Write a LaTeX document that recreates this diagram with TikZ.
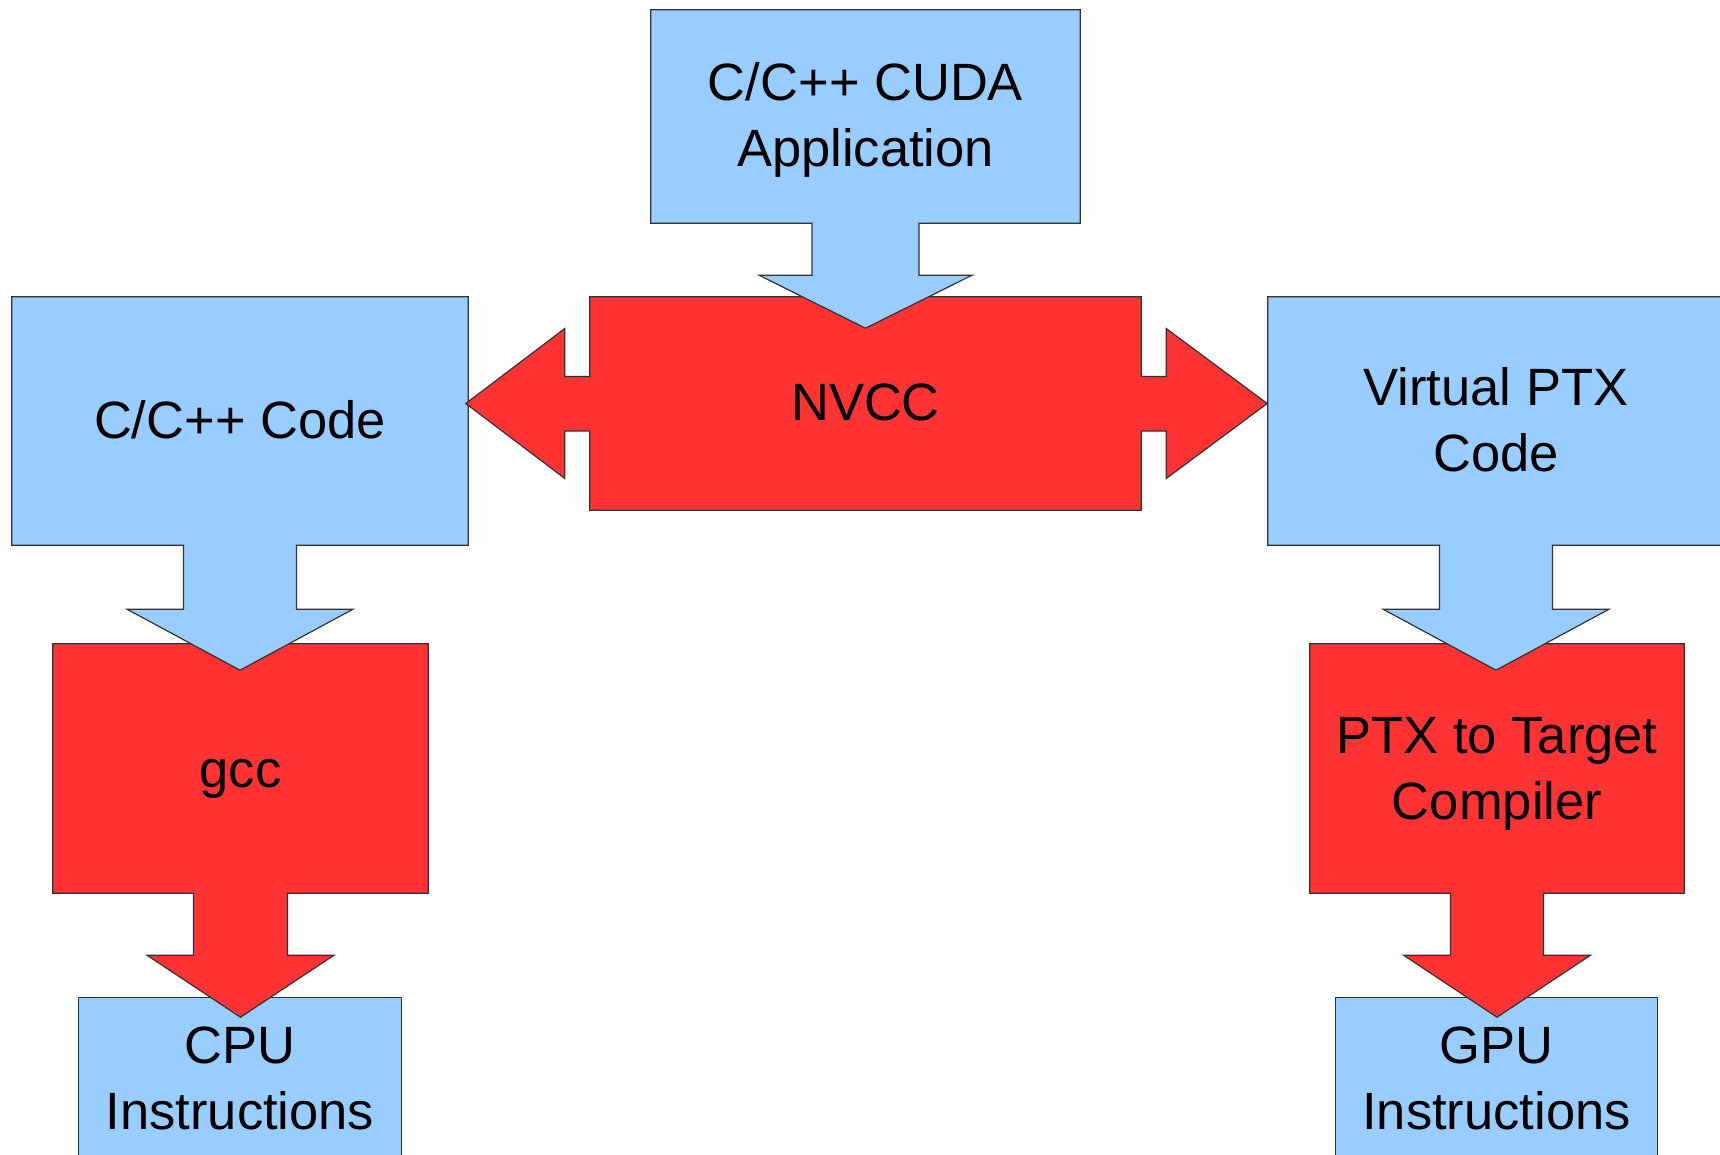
\documentclass[tikz,border=0pt]{standalone}
\usepackage{fontspec}
\setmainfont{Liberation Sans}
\usetikzlibrary{calc}
\pgfdeclarelayer{bg}
\pgfsetlayers{bg,main}
\definecolor{cblue}{RGB}{153,204,255}
\definecolor{cred}{RGB}{255,51,51}
\definecolor{cborder}{RGB}{50,50,50}
\tikzset{
  txtbox/.style={draw=none, fill=none, inner sep=0pt, align=center, text=black,
    font=\fontsize{52.5}{66}\selectfont},
  blueshape/.style={fill=cblue, draw=cborder, line width=1.2pt, line join=miter},
  redshape/.style={fill=cred, draw=cborder, line width=1.2pt, line join=miter}
}
\begin{document}
\begin{tikzpicture}[x=1pt,y=-1pt]
\useasboundingbox (0,0) rectangle (1720,1155);
\clip (0,0) rectangle (1720,1155);

% boxes (geometry + text)
\node[txtbox, minimum width=429pt, minimum height=213pt] (cuda) at (865.5,116.5) {};
\node[txtbox, minimum width=551pt, minimum height=213pt] (nvcc) at (865.5,403.5) {};
\node[txtbox, minimum width=456pt, minimum height=248pt] (code) at (240,421) {};
\node[txtbox, minimum width=456pt, minimum height=248pt] (virt) at (1496,421) {};
\node[txtbox, minimum width=375pt, minimum height=249pt] (gcc) at (240.5,768.5) {};
\node[txtbox, minimum width=374pt, minimum height=249pt] (tgt) at (1497,768.5) {};
\node[txtbox, minimum width=322pt, minimum height=160pt] (cpu) at (240,1078) {};
\node[txtbox, minimum width=322pt, minimum height=160pt] (gpu) at (1496.5,1078) {};

% texts
\node[txtbox, yshift=-3.5pt] (tcuda) at (cuda) {C/C++ CUDA\\Application};
\node[txtbox, yshift=1.5pt] (tnvcc) at (nvcc) {NVCC};
\node[txtbox, yshift=1.5pt] (tcode) at (code) {C/C++ Code};
\node[txtbox, yshift=1.5pt] (tvirt) at (virt) {Virtual PTX\\Code};
\node[txtbox, yshift=-10pt] (tgcc) at (gcc) {gcc};
\node[txtbox, yshift=-5pt] (ttgt) at (tgt) {PTX to Target\\Compiler};
\node[txtbox] (tcpu) at (cpu) {CPU\\Instructions};
\node[txtbox] (tgpu) at (gpu) {GPU\\Instructions};

\begin{pgfonlayer}{bg}
% bottom boxes
\draw[blueshape] (cpu.north west) rectangle (cpu.south east);
\draw[blueshape] (gpu.north west) rectangle (gpu.south east);
% gcc with down arrow
\draw[redshape] (gcc.north west) -- (gcc.north east) -- (gcc.south east)
  -- ($(gcc.south)+(47,0)$) -- ++(0,62) -- ++(46.5,0) -- ($(gcc.south)+(0,124)$)
  -- ($(gcc.south)+(-93.5,62)$) -- ++(46.5,0) -- ($(gcc.south)+(-47,0)$)
  -- (gcc.south west) -- cycle;
% ptx to target with down arrow
\draw[redshape] (tgt.north west) -- (tgt.north east) -- (tgt.south east)
  -- ($(tgt.south)+(46.5,0)$) -- ++(0,62) -- ++(47,0) -- ($(tgt.south)+(0,124)$)
  -- ($(tgt.south)+(-93.5,62)$) -- ++(47,0) -- ($(tgt.south)+(-46.5,0)$)
  -- (tgt.south west) -- cycle;
% C/C++ code with down arrow
\draw[blueshape] (code.north west) -- (code.north east) -- (code.south east)
  -- ($(code.south)+(56.5,0)$) -- ++(0,64) -- ++(56.5,0) -- ($(code.south)+(0,125)$)
  -- ($(code.south)+(-113,64)$) -- ++(56.5,0) -- ($(code.south)+(-56.5,0)$)
  -- (code.south west) -- cycle;
% virtual PTX with down arrow
\draw[blueshape] (virt.north west) -- (virt.north east) -- (virt.south east)
  -- ($(virt.south)+(56.5,0)$) -- ++(0,64) -- ++(56.5,0) -- ($(virt.south)+(0,125)$)
  -- ($(virt.south)+(-113,64)$) -- ++(56.5,0) -- ($(virt.south)+(-56.5,0)$)
  -- (virt.south west) -- cycle;
% NVCC with left and right arrows
\draw[redshape] (nvcc.north west) -- (nvcc.north east)
  -- ($(nvcc.east)+(0,-27)$) -- ++(25,0) -- ++(0,-48) -- ($(nvcc.east)+(126,0)$)
  -- ($(nvcc.east)+(25,75)$) -- ++(0,-47.5) -- ($(nvcc.east)+(0,27.5)$)
  -- (nvcc.south east) -- (nvcc.south west)
  -- ($(nvcc.west)+(0,27.5)$) -- ++(-25,0) -- ++(0,47.5) -- ($(nvcc.west)+(-124,0)$)
  -- ($(nvcc.west)+(-25,-75)$) -- ++(0,48) -- ($(nvcc.west)+(0,-27)$)
  -- cycle;
% CUDA application with down arrow
\draw[blueshape] (cuda.north west) -- (cuda.north east) -- (cuda.south east)
  -- ($(cuda.south)+(53.5,0)$) -- ++(0,52) -- ++(53,0) -- ($(cuda.south)+(0,105)$)
  -- ($(cuda.south)+(-106.5,52)$) -- ++(53,0) -- ($(cuda.south)+(-53.5,0)$)
  -- (cuda.south west) -- cycle;
\end{pgfonlayer}
\end{tikzpicture}
\end{document}
